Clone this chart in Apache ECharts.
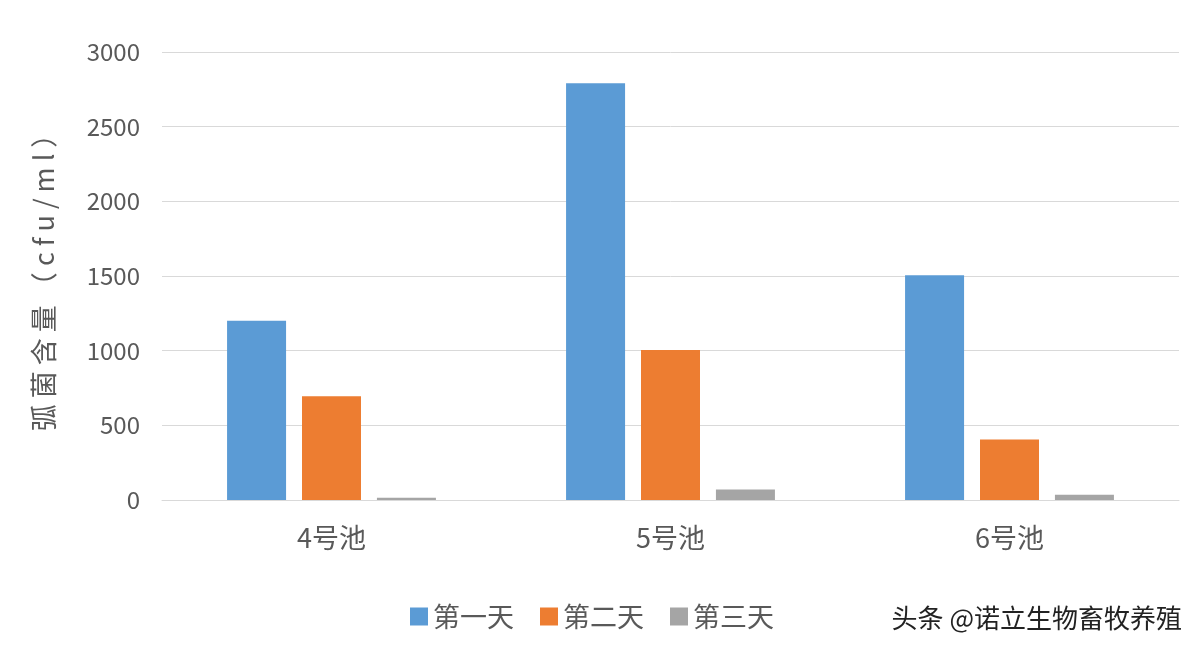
<!DOCTYPE html>
<html><head><meta charset="utf-8">
<script src="https://cdn.jsdelivr.net/npm/echarts@6/dist/echarts.min.js"></script>
<style>html,body{margin:0;background:#fff}#c{width:1200px;height:651px}</style>
</head><body><div id="c"></div>
<script>
var categories = ['4号池', '5号池', '6号池'];
var day1 = [1200, 2790, 1505];
var day2 = [695, 1005, 405];
var day3 = [15, 70, 35];
var seriesNames = ['第一天', '第二天', '第三天'];
var colors = ['#5b9bd5', '#ed7d31', '#a5a5a5'];

var chart = echarts.init(document.getElementById('c'));
var font = '"Noto Sans CJK SC", "Noto Sans", sans-serif';
chart.setOption({
    animation: false,
    textStyle: {fontFamily: font},
    grid: {left: 162, right: 21, top: 52, bottom: 151},
    legend: {
        bottom: 16, left: 405, itemWidth: 18, itemHeight: 18, itemGap: 26,
        icon: 'rect',
        textStyle: {fontSize: 27, color: '#595959', fontFamily: font}
    },
    xAxis: {
        type: 'category', data: categories,
        axisTick: {show: false},
        axisLine: {lineStyle: {color: '#d9d9d9'}},
        axisLabel: {fontSize: 27, color: '#595959', margin: 24}
    },
    yAxis: {
        type: 'value', min: 0, max: 3000, interval: 500,
        name: '弧 菌 含 量 （ c f u / m l ）', nameLocation: 'middle', nameGap: 105,
        nameTextStyle: {fontSize: 27, color: '#595959', fontFamily: font},
        axisLabel: {fontSize: 24, color: '#595959', margin: 22,
            formatter: function (v) { return String(v); }},
        splitLine: {lineStyle: {color: '#d9d9d9'}}
    },
    series: [day1, day2, day3].map(function (d, i) {
        return {
            type: 'bar', name: seriesNames[i], data: d,
            barWidth: 59, barGap: '27%',
            itemStyle: {color: colors[i]}
        };
    }),
    graphic: [{
        type: 'text', right: 18, bottom: 20,
        style: {text: '头条 @诺立生物畜牧养殖', fontSize: 26, fill: '#222', fontFamily: font}
    }]
});
</script></body></html>
